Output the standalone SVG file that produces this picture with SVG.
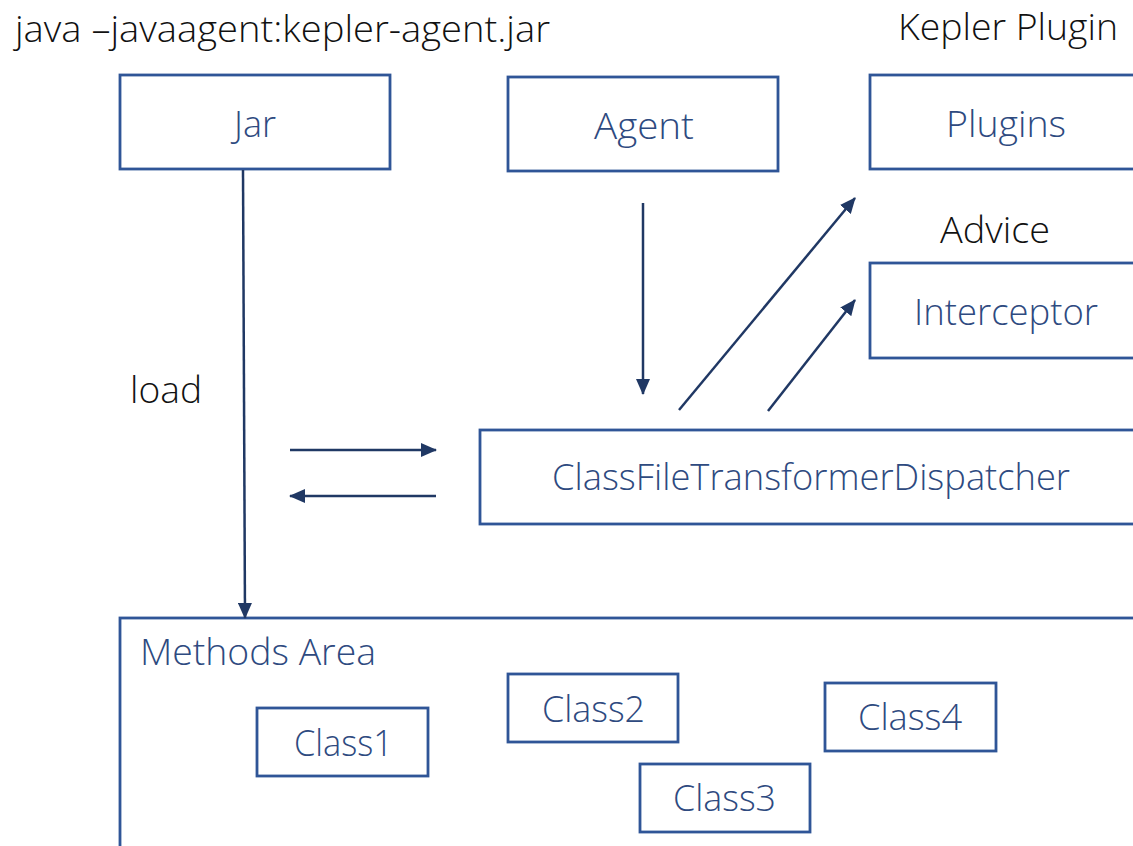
<svg xmlns="http://www.w3.org/2000/svg" width="1133" height="846" viewBox="0 0 1133 846">
<style>
.box{fill:#fff;stroke:#2F5597;stroke-width:2.8}
.lbl{font-family:"Open Sans","Liberation Sans",sans-serif;font-weight:300;font-size:36px;fill:#2E4A80}
.blk{font-family:"Open Sans","Liberation Sans",sans-serif;font-weight:300;font-size:36px;fill:#111}
.conn{stroke:#203864;stroke-width:2.5;fill:none;marker-end:url(#ah)}
</style>
<defs>
<marker id="ah" markerUnits="userSpaceOnUse" markerWidth="16" markerHeight="14" refX="15" refY="7" orient="auto">
<path d="M0,0 L16,7 L0,14 Z" fill="#203864"/>
</marker>
</defs>
<rect width="1133" height="846" fill="#fff"/>
<text class="blk" x="15" y="42" textLength="535" lengthAdjust="spacingAndGlyphs">java –javaagent:kepler-agent.jar</text>
<text class="blk" x="898" y="40" textLength="220" lengthAdjust="spacingAndGlyphs">Kepler Plugin</text>
<text class="blk" x="940" y="243" textLength="110" lengthAdjust="spacingAndGlyphs">Advice</text>
<text class="blk" x="130" y="403" textLength="72" lengthAdjust="spacingAndGlyphs">load</text>
<g id="jar"><rect class="box" x="120" y="75" width="270" height="94"/><text class="lbl" x="255" y="137" text-anchor="middle">Jar</text></g>
<g id="agent"><rect class="box" x="508" y="77" width="270" height="94"/><text class="lbl" x="594" y="139" textLength="100" lengthAdjust="spacingAndGlyphs">Agent</text></g>
<g id="plugins"><rect class="box" x="870" y="75" width="280" height="94"/><text class="lbl" x="946" y="137" textLength="120" lengthAdjust="spacingAndGlyphs">Plugins</text></g>
<g id="interceptor"><rect class="box" x="870" y="263" width="280" height="95"/><text class="lbl" x="914" y="325" textLength="184" lengthAdjust="spacingAndGlyphs">Interceptor</text></g>
<g id="dispatcher"><rect class="box" x="480" y="430" width="670" height="94"/><text class="lbl" x="552" y="490" textLength="518" lengthAdjust="spacingAndGlyphs">ClassFileTransformerDispatcher</text></g>
<g id="methods-area"><rect class="box" x="120" y="618" width="1030" height="240"/><text class="lbl" x="140" y="665" textLength="236" lengthAdjust="spacingAndGlyphs">Methods Area</text></g>
<g id="class1"><rect class="box" x="257" y="708" width="171" height="68"/><text class="lbl" x="294" y="756" textLength="99" lengthAdjust="spacingAndGlyphs">Class1</text></g>
<g id="class2"><rect class="box" x="508" y="674" width="170" height="68"/><text class="lbl" x="542" y="722" textLength="103" lengthAdjust="spacingAndGlyphs">Class2</text></g>
<g id="class3"><rect class="box" x="640" y="764" width="170" height="68"/><text class="lbl" x="673" y="811" textLength="103" lengthAdjust="spacingAndGlyphs">Class3</text></g>
<g id="class4"><rect class="box" x="825" y="683" width="171" height="68"/><text class="lbl" x="858" y="730" textLength="104" lengthAdjust="spacingAndGlyphs">Class4</text></g>
<g id="connectors">
<line class="conn" x1="243" y1="170" x2="245" y2="618"/>
<line class="conn" x1="643" y1="203" x2="643" y2="394"/>
<line class="conn" x1="679" y1="410" x2="855" y2="198"/>
<line class="conn" x1="768" y1="411" x2="855" y2="300"/>
<line class="conn" x1="290" y1="450" x2="436" y2="450"/>
<line class="conn" x1="436" y1="496" x2="290" y2="496"/>
</g>
</svg>
